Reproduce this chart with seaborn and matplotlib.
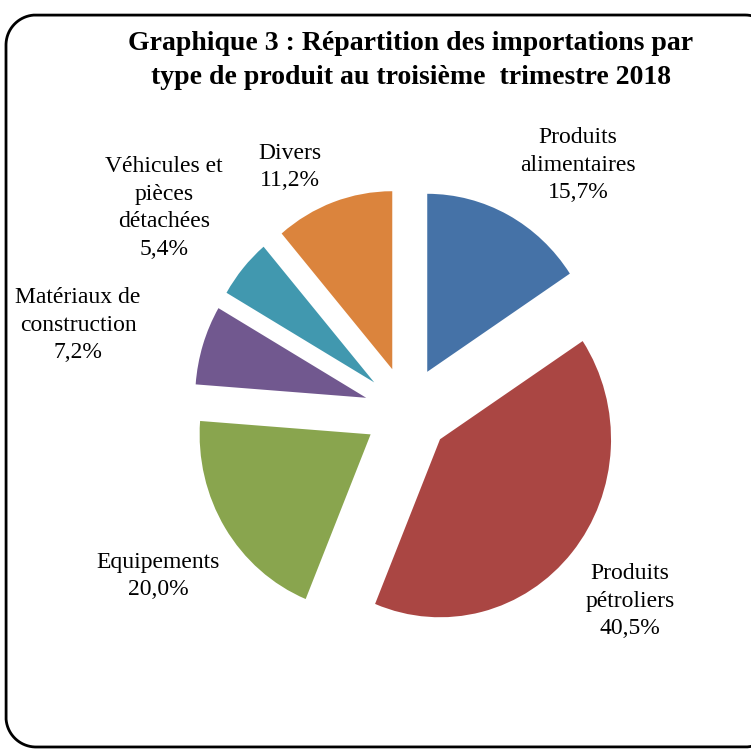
import matplotlib
matplotlib.use("Agg")
import matplotlib.pyplot as plt
from matplotlib.lines import Line2D
from matplotlib.transforms import IdentityTransform
import numpy as np
import seaborn as sns

categories = ["Produits\nalimentaires", "Produits\npétroliers", "Equipements",
              "Matériaux de\nconstruction", "Véhicules et\npièces\ndétachées", "Divers"]
values = [15.7, 40.5, 20.0, 7.2, 5.4, 11.2]
value_labels = ["15,7%", "40,5%", "20,0%", "7,2%", "5,4%", "11,2%"]
colors = ["#4572A7", "#AA4643", "#89A54E", "#71588F", "#4198AF", "#DB843D"]
title = "Graphique 3 : Répartition des importations par\ntype de produit au troisième  trimestre 2018"

sns.set_theme(style="white")
plt.rcParams["font.family"] = ["Liberation Serif", "DejaVu Serif"]

W, H = 751, 749
fig = plt.figure(figsize=(W / 100, H / 100), dpi=100)
ax = fig.add_axes([0, 0, 1, 1])

cx, cy, Rx, Ry = 407, 411, 171, 178  # pixel centre and radii of pie

ax.pie(values, explode=[0.25] * len(values), startangle=90, counterclock=False,
       colors=sns.color_palette(colors), radius=1,
       wedgeprops=dict(linewidth=0))
ax.set_aspect("auto")
ax.set_xlim((0 - cx) / Rx, (W - cx) / Rx)
ax.set_ylim(-(H - cy) / Ry, cy / Ry)
ax.axis("off")

def d(px, py):
    return (px - cx) / Rx, (cy - py) / Ry

label_pos = [(578, 165), (630, 601), (158, 576), (78, 325), (164, 208), (290, 167)]
for cat, vl, (px, py) in zip(categories, value_labels, label_pos):
    x, y = d(px, py)
    ax.text(x, y, f"{cat}\n{vl}", ha="center", va="center", fontsize=17,
            linespacing=1.42, color="#000000")

fig.text(411 / W, 1 - 60.5 / H, title, ha="center", va="center", fontsize=20,
         fontweight="bold", linespacing=1.45, color="#000000")

# rounded frame as a polyline in pixel coordinates (origin bottom-left)
x0, x1, y0, y1, r = 6, 775, H - 747, H - 15, 30
def arc(xc, yc, a0, a1):
    t = np.radians(np.linspace(a0, a1, 40))
    return xc + r * np.cos(t), yc + r * np.sin(t)
segs = [arc(x1 - r, y1 - r, 0, 90), arc(x0 + r, y1 - r, 90, 180),
        arc(x0 + r, y0 + r, 180, 270), arc(x1 - r, y0 + r, 270, 360)]
fx = np.concatenate([s[0] for s in segs] + [segs[0][0][:1]])
fy = np.concatenate([s[1] for s in segs] + [segs[0][1][:1]])
frame = Line2D(fx, fy, transform=IdentityTransform(), color="black",
               linewidth=2.0, solid_joinstyle="round")
fig.lines.append(frame)

fig.savefig("out.png", dpi=100, facecolor="white")
